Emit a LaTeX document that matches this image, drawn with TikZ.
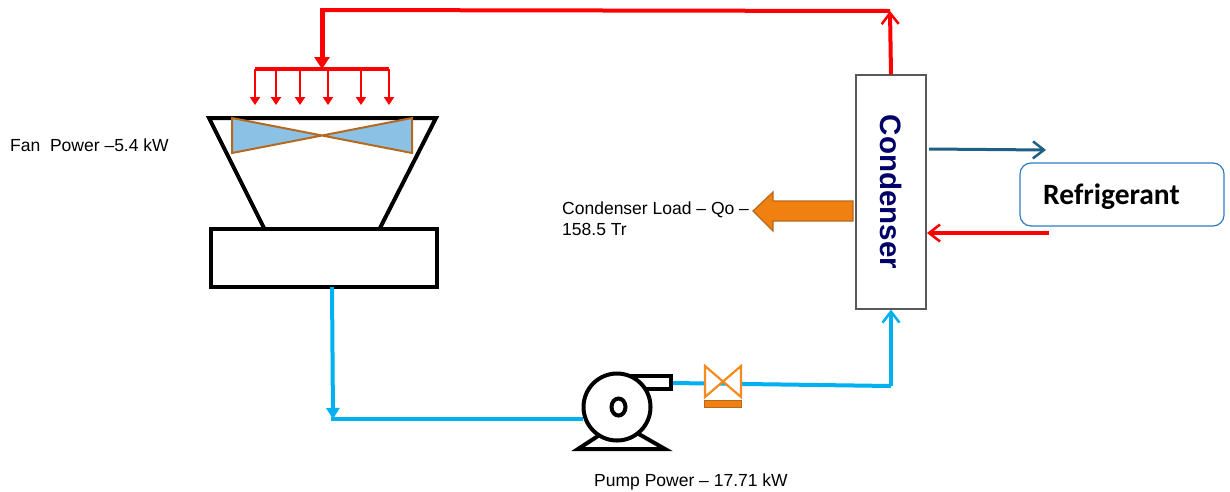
\documentclass[tikz,border=0pt]{standalone}
\usepackage{fontspec}
\setmainfont{Liberation Sans}
\newfontfamily\calibrifont{Carlito}
\usetikzlibrary{arrows.meta}
\definecolor{hotred}{HTML}{FF0000}
\definecolor{coldblue}{HTML}{00B0F0}
\definecolor{tealblue}{HTML}{1F5F85}
\definecolor{bladeblue}{HTML}{8CC1E6}
\definecolor{bladeedge}{HTML}{B5691F}
\definecolor{loadorange}{HTML}{F08010}
\definecolor{valveorange}{HTML}{F58A1F}
\definecolor{boxblue}{HTML}{2E7CC4}
\tikzset{
  plainlabel/.style={font=\fontsize{17.5}{21}\selectfont, inner sep=0pt, anchor=west, align=left},
  hotpipe/.style={draw=hotred, line width=4pt},
  coldpipe/.style={draw=coldblue, line width=4pt},
  openhead/.style={-{Straight Barb[length=11pt,width=17pt,line width=2.5pt]}},
  drop/.style={draw=hotred, line width=2pt, -{Triangle[length=8pt,width=10pt]}}
}
\begin{document}
\begin{tikzpicture}[x=1pt, y=-1pt, line cap=butt, line join=miter]
  \useasboundingbox (0,0) rectangle (1230,491);
  % the tower
  \node[draw=black, line width=4pt, minimum width=226pt, minimum height=58pt, inner sep=0pt] (basin) at (324,258) {};
  \coordinate (hoodTL) at (209,118); \coordinate (hoodTR) at (436,118);
  \coordinate (hoodBL) at (264,228); \coordinate (hoodBR) at (380,228);
  \draw[line width=4pt] (hoodBL) -- (hoodTL) -- (hoodTR) -- (hoodBR);
  % the fan
  \filldraw[fill=bladeblue, draw=bladeedge, line width=2pt] (232,118) -- (412,153) -- (412,118) -- (232,153) -- cycle;
  % the spray header
  \coordinate (headerL) at (255,69); \coordinate (headerR) at (389,69); \coordinate (headerM) at (322,69);
  \draw[draw=hotred, line width=3.5pt] (headerL) -- (headerR);
  \foreach \x in {255,276,300,328,361,389} { \draw[drop] (\x,69) -- (\x,105); }
  % the condenser
  \node[draw=black!65, fill=white, line width=1.2pt, minimum width=70pt, minimum height=234pt, inner sep=0pt] (condenser) at (891,192) {};
  \node[rotate=-90, text=blue!40!black, font=\fontsize{29.5}{32}\selectfont\bfseries, inner sep=0pt] (condlabel) at (891,192) {Condenser};
  % the refrigerant side
  \node[draw=boxblue, line width=1.2pt, rounded corners=11pt, minimum width=204pt, minimum height=63pt, inner sep=0pt] (refrigerant) at (1122,194.5) {};
  \node[font=\fontsize{29.5}{32}\selectfont\bfseries\calibrifont, inner sep=0pt, anchor=west] (reflabel) at (1043,197) {Refrigerant};
  \coordinate (refout) at (929,149); \coordinate (refoutend) at (1046,150);
  \coordinate (refin) at (1049,233); \coordinate (refinend) at (927,233);
  \draw[draw=tealblue, line width=3pt, openhead] (refout) -- (refoutend);
  \draw[hotpipe, openhead] (refin) -- (refinend);
  % the hot line
  \coordinate (topL) at (322,10); \coordinate (topR) at (890,11);
  \draw[draw=hotred, line width=5pt, -{Triangle[length=12pt,width=15pt]}] (topL) -- (headerM);
  \draw[hotpipe] (320,10) -- (topR);
  \draw[hotpipe, openhead] (condenser.north) -- (topR);
  % the load
  \filldraw[fill=loadorange, draw=bladeedge, line width=1.2pt] (853,201) -- (773,201) -- (773,192) -- (753,211) -- (773,231) -- (773,221) -- (853,221) -- cycle;
  % the pump
  \coordinate (basinout) at (332,287); \coordinate (corner) at (333,419); \coordinate (pumpin) at (583,419);
  \draw[coldpipe, -{Triangle[length=11pt,width=13pt]}] (basinout) -- (corner);
  \draw[coldpipe] (331,419) -- (pumpin);
  \coordinate (pumpout) at (672,383); \coordinate (riser) at (891,386);
  \draw[coldpipe] (pumpout) -- (riser);
  \draw[coldpipe, openhead] (riser) -- (condenser.south);
  \draw[line width=4pt] (598,436) -- (578,449) -- (665,449) -- (637,433);
  \filldraw[fill=white, line width=4pt] (628,376) rectangle (671,389);
  \node[circle, draw=black, fill=white, line width=4pt, minimum size=67pt, inner sep=0pt] (pump) at (617,407) {};
  \draw[line width=4pt] (618.5,407) ellipse (7 and 8.5);
  % the valve
  \fill[white] (705,366) -- (722.5,381) -- (705,397) -- cycle;
  \fill[white] (741,366) -- (722.5,381) -- (741,397) -- cycle;
  \fill[white] (705,366) -- (741,366) -- (722.5,381) -- cycle;
  \draw[draw=valveorange, line width=2.2pt] (705,366) -- (741,397) -- (741,366) -- (705,397) -- cycle;
  \filldraw[fill=loadorange, draw=bladeedge, line width=1.2pt] (704.5,400.5) rectangle (741.5,407.5);
  % the labels
  \node[plainlabel] (fanlabel) at (10,145) {Fan\ \ Power --5.4 kW};
  \node[plainlabel] (loadlabel) at (562,218.5) {Condenser Load -- Qo --\\158.5 Tr};
  \node[plainlabel] (pumplabel) at (594,482) {Pump Power -- 17.71 kW};
\end{tikzpicture}
\end{document}
